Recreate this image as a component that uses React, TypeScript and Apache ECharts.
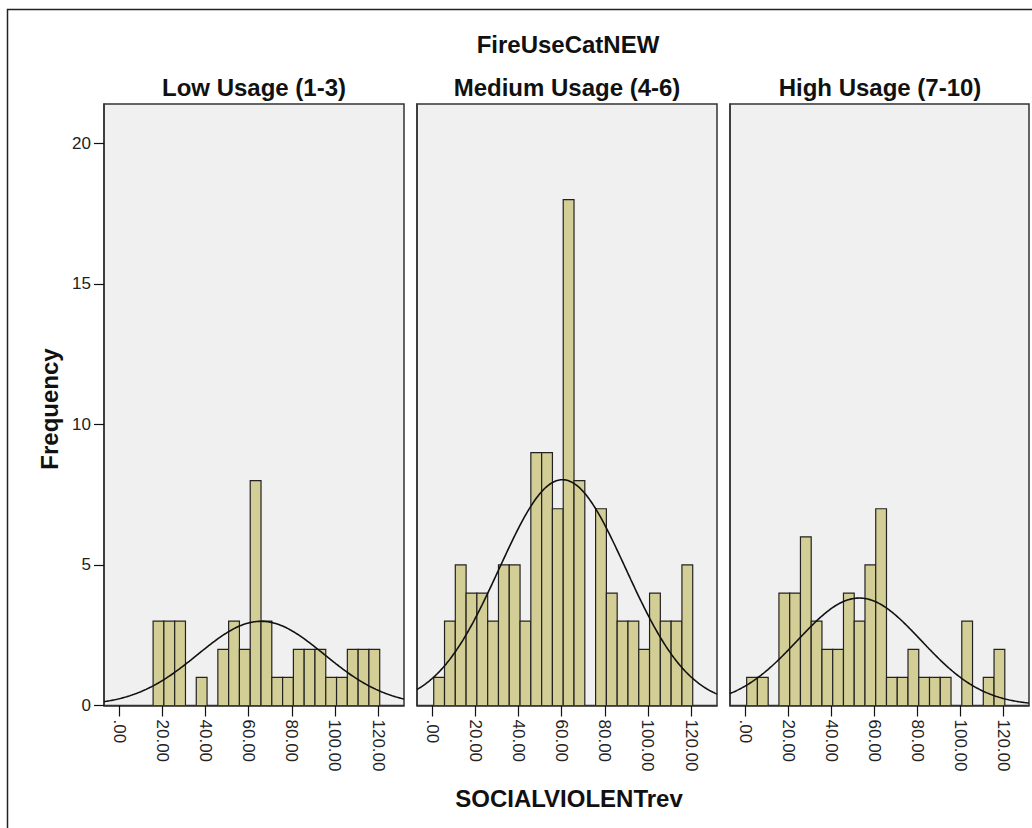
import React, { useEffect, useRef } from "react";
import * as echarts from "echarts";

// Histogram bins of SOCIALVIOLENTrev (24 bins of width 5, first edge at 0.75)
const BIN_START = 0.75;
const BIN_WIDTH = 5;

const panelTitles = ["Low Usage (1-3)", "Medium Usage (4-6)", "High Usage (7-10)"];

const lowCounts = [0, 0, 0, 3, 3, 3, 0, 1, 0, 2, 3, 2, 8, 3, 1, 1, 2, 2, 2, 1, 1, 2, 2, 2];
const mediumCounts = [1, 3, 5, 4, 4, 3, 5, 5, 3, 9, 9, 7, 18, 8, 0, 7, 4, 3, 3, 2, 4, 3, 3, 5];
const highCounts = [1, 1, 0, 4, 4, 6, 3, 2, 2, 4, 3, 5, 7, 1, 1, 2, 1, 1, 1, 0, 3, 0, 1, 2];

// Fitted normal curve parameters for each group
const fitMeans = [65.75, 60.4, 53.1];
const fitSDs = [29.3, 29.3, 28.7];

const xTicks = [0, 20, 40, 60, 80, 100, 120];
const yTicks = [0, 5, 10, 15, 20];

const X_MIN = -7;
const X_MAX = 132;
const Y_MAX = 21.4;

const FONT = "'Liberation Sans', Arial, Helvetica, sans-serif";
const BAR_FILL = "#D3CE96";
const PANEL_BG = "#F0F0F0";
const EDGE = "#333";

const panelLefts = [104, 417, 730];
const PANEL_W = 300;
const PANEL_TOP = 104;
const PANEL_H = 601.5;

function histData(counts: number[]) {
  const out: number[][] = [];
  counts.forEach((c, i) => {
    if (c > 0) {
      const x0 = BIN_START + i * BIN_WIDTH;
      out.push([x0, x0 + BIN_WIDTH, c]);
    }
  });
  return out;
}

function normalCurve(counts: number[], mean: number, sd: number) {
  const n = counts.reduce((a, b) => a + b, 0);
  const scale = (n * BIN_WIDTH) / (sd * Math.sqrt(2 * Math.PI));
  const pts: number[][] = [];
  for (let x = X_MIN; x <= X_MAX; x += 0.5) {
    const z = (x - mean) / sd;
    pts.push([x, scale * Math.exp(-0.5 * z * z)]);
  }
  return pts;
}

const boldText = (text: string, x: number, y: number, extra: any = {}) => ({
  type: "text",
  x,
  y,
  ...extra,
  style: {
    text,
    fontFamily: FONT,
    fontWeight: "bold",
    fontSize: 24,
    fill: "#111",
    align: "center",
    verticalAlign: "middle",
  },
});

export default function App() {
  const ref = useRef<HTMLDivElement>(null);

  useEffect(() => {
    if (!ref.current) return;
    const chart = echarts.init(ref.current, null, { renderer: "svg" });
    const groups = [lowCounts, mediumCounts, highCounts];

    const grids = panelLefts.map((left, i) => ({
      left,
      top: PANEL_TOP,
      width: i === 2 ? PANEL_W - 1 : PANEL_W,
      height: PANEL_H,
      show: true,
      backgroundColor: PANEL_BG,
      borderColor: EDGE,
      borderWidth: 1.5,
      containLabel: false,
      outerBoundsMode: "none",
    }));

    const xAxes = panelLefts.map((_, i) => ({
      type: "value",
      gridIndex: i,
      position: "bottom",
      min: X_MIN,
      max: X_MAX,
      splitLine: { show: false },
      axisLine: { show: true, onZero: false, lineStyle: { color: EDGE, width: 1.5 } },
      axisTick: {
        show: true,
        inside: false,
        length: 11,
        customValues: xTicks,
        lineStyle: { color: "#111", width: 1.2 },
      },
      axisLabel: {
        show: true,
        inside: false,
        customValues: xTicks,
        rotate: -90,
        margin: 14,
        fontFamily: FONT,
        fontSize: 17,
        color: "#222",
        formatter: (v: number) => (v === 0 ? ".00" : v.toFixed(2)),
      },
    }));

    const yAxes = panelLefts.map((_, i) => ({
      type: "value",
      gridIndex: i,
      position: "left",
      min: 0,
      max: Y_MAX,
      splitLine: { show: false },
      axisLine: { show: true, onZero: false, lineStyle: { color: EDGE, width: 1.5 } },
      axisTick: {
        show: i === 0,
        inside: false,
        length: 10,
        customValues: yTicks,
        lineStyle: { color: "#111", width: 1.2 },
      },
      axisLabel: {
        show: i === 0,
        inside: false,
        customValues: yTicks,
        margin: 13,
        fontFamily: FONT,
        fontSize: 17,
        color: "#222",
      },
    }));

    const barSeries = groups.map((counts, i) => ({
      type: "custom",
      xAxisIndex: i,
      yAxisIndex: i,
      z: 2,
      clip: true,
      encode: { x: [0, 1], y: 2 },
      data: histData(counts),
      renderItem: (params: any, api: any) => {
        const p0 = api.coord([api.value(0), api.value(2)]);
        const p1 = api.coord([api.value(1), 0]);
        return {
          type: "rect",
          shape: { x: p0[0], y: p0[1], width: p1[0] - p0[0], height: p1[1] - p0[1] },
          style: { fill: BAR_FILL, stroke: "#222", lineWidth: 1.2 },
        };
      },
    }));

    const curveSeries = groups.map((counts, i) => ({
      type: "line",
      xAxisIndex: i,
      yAxisIndex: i,
      z: 3,
      showSymbol: false,
      silent: true,
      data: normalCurve(counts, fitMeans[i], fitSDs[i]),
      lineStyle: { color: "#111", width: 1.6 },
    }));

    chart.setOption({
      animation: false,
      backgroundColor: "#fff",
      grid: grids,
      xAxis: xAxes,
      yAxis: yAxes,
      series: [...barSeries, ...curveSeries],
      graphic: [
        {
          type: "rect",
          shape: { x: 7.5, y: 9.5, width: 1100, height: 900 },
          style: { fill: "none", stroke: "#222", lineWidth: 1.5 },
          silent: true,
        },
        boldText("FireUseCatNEW", 568, 44),
        ...panelTitles.map((t, i) => boldText(t, panelLefts[i] + PANEL_W / 2, 87)),
        boldText("SOCIALVIOLENTrev", 569, 798),
        boldText("Frequency", 49, 409, { rotation: Math.PI / 2 }),
      ],
    });

    return () => chart.dispose();
  }, []);

  return (
    <div
      ref={ref}
      style={{ position: "fixed", left: 0, top: 0, width: 1032, height: 828, background: "#fff" }}
    />
  );
}
